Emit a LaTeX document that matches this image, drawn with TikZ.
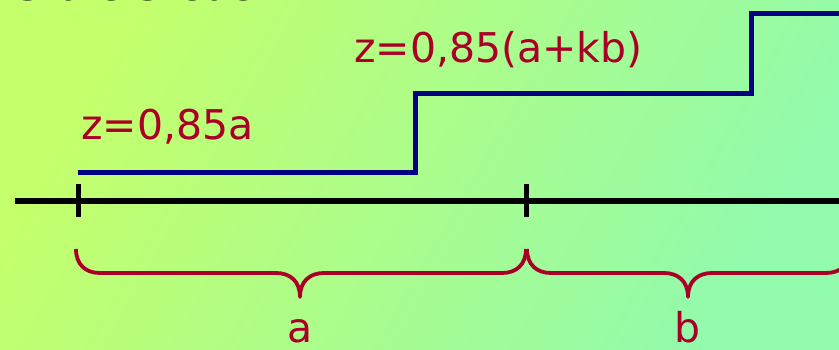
\documentclass[tikz,border=0pt]{standalone}
\usepackage{fontspec}
\setmainfont{DejaVu Sans}
\definecolor{bgbl}{RGB}{196,255,108}
\definecolor{bgtr}{RGB}{146,250,172}
\definecolor{stepblue}{RGB}{0,0,128}
\definecolor{labred}{RGB}{170,0,40}
\tikzset{
  axisline/.style={line width=5.5pt, black},
  tickline/.style={line width=5pt, black},
  stepline/.style={line width=5pt, stepblue, line join=miter},
  braceline/.style={line width=3.8pt, labred, line join=round},
  lab/.style={text=labred, font=\fontsize{41}{44}\selectfont, inner sep=0pt, anchor=base west},
  midlab/.style={text=labred, font=\fontsize{41}{44}\selectfont, inner sep=0pt, anchor=base},
}
\begin{document}
\begin{tikzpicture}[x=1pt,y=-1pt]
\useasboundingbox (0,0) rectangle (839,349);
\clip (0,0) rectangle (839,349);
\shade[left color=bgbl, right color=bgtr, shading angle=60] (0,0) rectangle (839,349);
% cut-off title
\node[inner sep=0pt, anchor=base west, font=\fontsize{41}{44}\selectfont] (title) at (15,0.5) {Stufe Steuer};
% axis
\coordinate (axL) at (15,201);
\coordinate (axR) at (845,201);
\draw[axisline] (axL) -- (axR);
\coordinate (t1) at (78,201);
\coordinate (t2) at (526,201);
\draw[tickline] ([yshift=-16pt]t1) -- ([yshift=17pt]t1);
\draw[tickline] ([yshift=-16pt]t2) -- ([yshift=17pt]t2);
% step line
\draw[stepline] (78,172) -- (415,172) -- (415,93) -- (751,93) -- (751,13) -- (845,13);
% labels
\node[lab] (z1) at (81,139) {z=0,85a};
\node[lab] (z2) at (354,62) {z=0,85(a+kb)};
% braces
\draw[braceline] (76,249) .. controls (76,265) and (86,273) .. (100,273) -- (276,273)
  .. controls (290,273) and (300,281) .. (300,297)
  .. controls (300,281) and (310,273) .. (324,273) -- (502,273)
  .. controls (516,273) and (526,265) .. (526,249);
\draw[braceline] (527,249) .. controls (527,265) and (537,273) .. (551,273) -- (664,273)
  .. controls (678,273) and (688,281) .. (688,297)
  .. controls (688,281) and (698,273) .. (712,273) -- (826,273)
  .. controls (840,273) and (850,265) .. (850,249);
\node[midlab] (la) at (300,342) {a};
\node[midlab] (lb) at (688,342) {b};
\end{tikzpicture}
\end{document}
